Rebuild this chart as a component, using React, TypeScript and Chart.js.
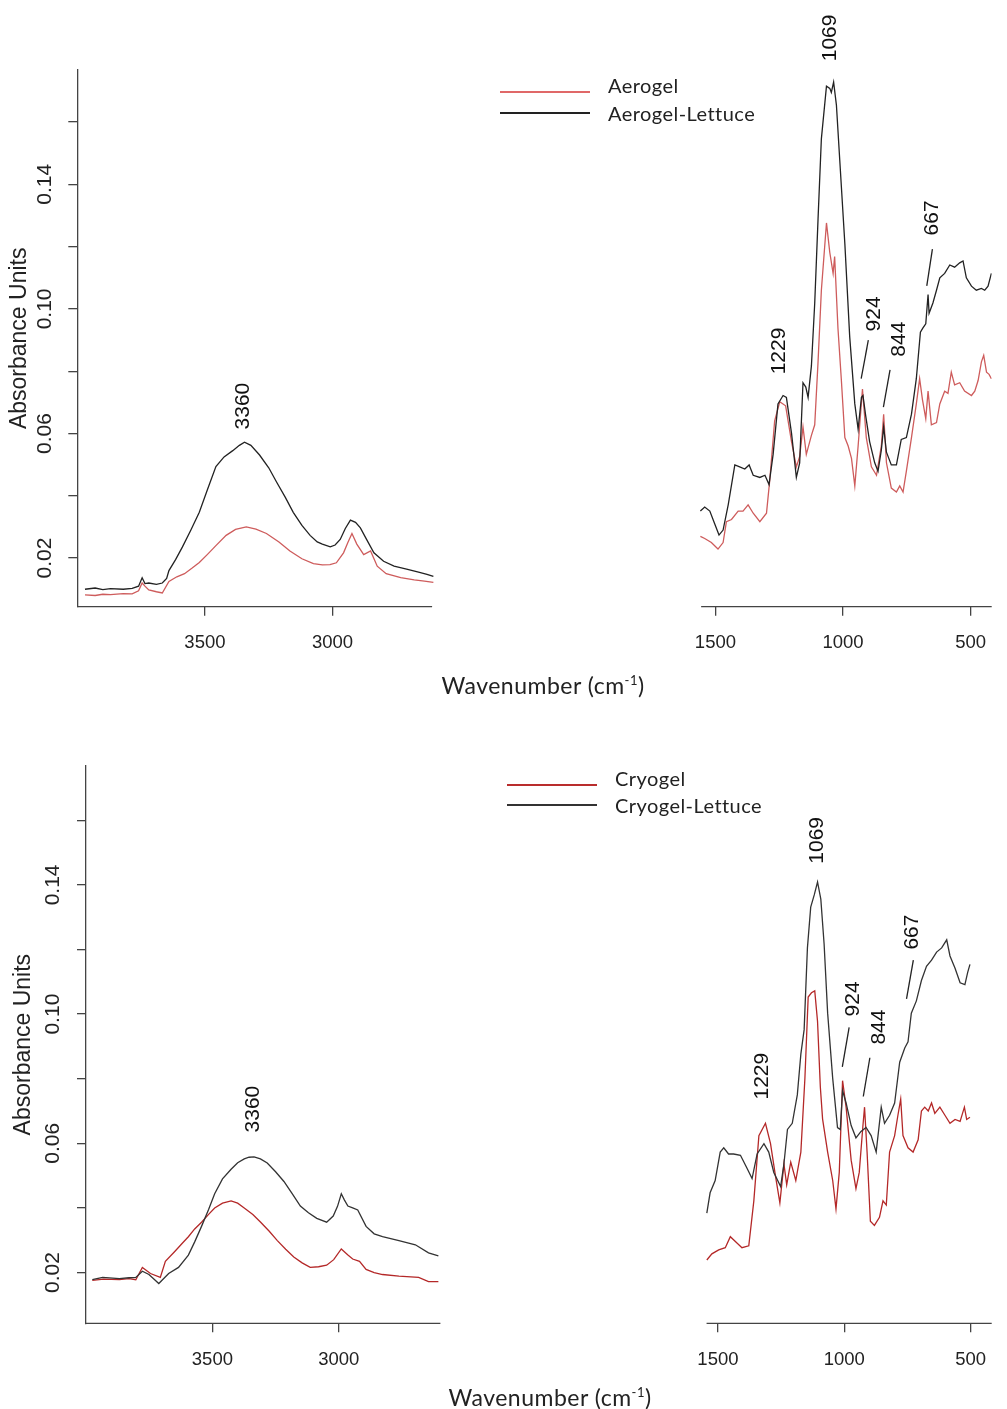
import React, { useEffect, useRef } from 'react';
import { Chart, registerables } from 'chart.js';

Chart.register(...registerables);

// ---------------- Top panel: Aerogel ----------------
const aeroLeftWn = [3970, 3930, 3900, 3870, 3820, 3785, 3760, 3746, 3735, 3720, 3690, 3667, 3641, 3610, 3580, 3550, 3522, 3490, 3457, 3417, 3380, 3338, 3300, 3259, 3210, 3167, 3120, 3075, 3040, 3010, 2985, 2957, 2940, 2924, 2905, 2878, 2851, 2825, 2790, 2733, 2680, 2640, 2605];
const aeroLeft = [0.0082, 0.0080, 0.0084, 0.0083, 0.0086, 0.0085, 0.0095, 0.0120, 0.0110, 0.0098, 0.0092, 0.0088, 0.0125, 0.0140, 0.0150, 0.0168, 0.0186, 0.0212, 0.0240, 0.0273, 0.0292, 0.0300, 0.0293, 0.0279, 0.0252, 0.0223, 0.0198, 0.0182, 0.0178, 0.0179, 0.0185, 0.0217, 0.0250, 0.0279, 0.0245, 0.0211, 0.0223, 0.0174, 0.0150, 0.0137, 0.0130, 0.0126, 0.0122];
const aeroLetLeftWn = [3970, 3930, 3900, 3870, 3820, 3785, 3760, 3746, 3735, 3720, 3690, 3667, 3650, 3641, 3615, 3588, 3555, 3522, 3490, 3457, 3425, 3391, 3365, 3345, 3320, 3286, 3250, 3220, 3185, 3154, 3120, 3088, 3060, 3040, 3009, 2990, 2970, 2950, 2930, 2910, 2891, 2870, 2838, 2800, 2759, 2710, 2667, 2630, 2605];
const aeroLetLeft = [0.0100, 0.0104, 0.0099, 0.0102, 0.0100, 0.0103, 0.0110, 0.0137, 0.0118, 0.0120, 0.0116, 0.0120, 0.0135, 0.0160, 0.0195, 0.0236, 0.0290, 0.0347, 0.0420, 0.0494, 0.0525, 0.0545, 0.0562, 0.0572, 0.0562, 0.0531, 0.0490, 0.0445, 0.0395, 0.0347, 0.0305, 0.0273, 0.0252, 0.0245, 0.0236, 0.0242, 0.0260, 0.0295, 0.0322, 0.0315, 0.0297, 0.0265, 0.0217, 0.0190, 0.0174, 0.0165, 0.0156, 0.0148, 0.0141];

const aeroRightWn = [1559, 1542, 1516, 1490, 1470, 1457, 1437, 1411, 1392, 1372, 1352, 1326, 1300, 1287, 1268, 1248, 1225, 1202, 1183, 1170, 1157, 1144, 1124, 1111, 1098, 1085, 1065, 1052, 1039, 1033, 1020, 1007, 993, 980, 967, 954, 941, 924, 909, 889, 869, 850, 841, 830, 811, 791, 778, 765, 752, 732, 713, 700, 689, 676, 667, 654, 634, 621, 602, 589, 576, 563, 543, 524, 497, 484, 471, 458, 449, 438, 428, 419];
const aeroRight = [0.0270, 0.0263, 0.0250, 0.0229, 0.0250, 0.0317, 0.0324, 0.0351, 0.0351, 0.0371, 0.0344, 0.0317, 0.0344, 0.0452, 0.0641, 0.0702, 0.0689, 0.0574, 0.0493, 0.0526, 0.0621, 0.0533, 0.0594, 0.0628, 0.0830, 0.1060, 0.1276, 0.1181, 0.1114, 0.1168, 0.0938, 0.0776, 0.0587, 0.0560, 0.0520, 0.0432, 0.0560, 0.0743, 0.0587, 0.0493, 0.0466, 0.0560, 0.0662, 0.0506, 0.0425, 0.0412, 0.0432, 0.0412, 0.0479, 0.0587, 0.0695, 0.0776, 0.0709, 0.0648, 0.0736, 0.0628, 0.0635, 0.0695, 0.0736, 0.0729, 0.0797, 0.0756, 0.0763, 0.0736, 0.0722, 0.0736, 0.0770, 0.0830, 0.0851, 0.0797, 0.0790, 0.0776];
const aeroLetRightWn = [1559, 1542, 1522, 1503, 1486, 1470, 1450, 1424, 1405, 1385, 1368, 1352, 1326, 1306, 1290, 1274, 1255, 1235, 1222, 1202, 1183, 1170, 1157, 1146, 1137, 1124, 1111, 1098, 1085, 1065, 1052, 1046, 1037, 1026, 1013, 993, 974, 954, 941, 928, 922, 911, 896, 876, 863, 850, 841, 830, 811, 791, 772, 752, 732, 713, 697, 687, 676, 667, 663, 648, 634, 621, 602, 582, 563, 543, 530, 517, 497, 478, 458, 445, 432, 419];
const aeroLetRight = [0.0351, 0.0364, 0.0351, 0.0310, 0.0274, 0.0290, 0.0371, 0.0499, 0.0493, 0.0486, 0.0499, 0.0466, 0.0459, 0.0466, 0.0436, 0.0533, 0.0695, 0.0722, 0.0716, 0.0601, 0.0459, 0.0506, 0.0763, 0.0749, 0.0716, 0.0817, 0.1019, 0.1289, 0.1546, 0.1715, 0.1708, 0.1695, 0.1728, 0.1654, 0.1478, 0.1209, 0.0911, 0.0695, 0.0614, 0.0716, 0.0722, 0.0655, 0.0574, 0.0506, 0.0479, 0.0547, 0.0621, 0.0540, 0.0499, 0.0499, 0.0581, 0.0587, 0.0662, 0.0776, 0.0925, 0.0939, 0.0952, 0.1046, 0.0986, 0.1019, 0.1060, 0.1100, 0.1114, 0.1141, 0.1134, 0.1148, 0.1154, 0.1100, 0.1073, 0.1060, 0.1066, 0.1060, 0.1073, 0.1114];

// ---------------- Bottom panel: Cryogel ----------------
const cryoLeftWn = [3975, 3930, 3868, 3830, 3803, 3777, 3745, 3706, 3686, 3647, 3620, 3595, 3570, 3543, 3515, 3491, 3460, 3426, 3400, 3374, 3340, 3309, 3275, 3243, 3210, 3178, 3145, 3113, 3080, 3048, 3020, 2990, 2965, 2945, 2918, 2892, 2860, 2827, 2762, 2684, 2645, 2606];
const cryoLeft = [0.0176, 0.0180, 0.0178, 0.0181, 0.0178, 0.0216, 0.0197, 0.0185, 0.0235, 0.0267, 0.0290, 0.0311, 0.0335, 0.0356, 0.0380, 0.0400, 0.0415, 0.0422, 0.0415, 0.0400, 0.0380, 0.0356, 0.0328, 0.0299, 0.0272, 0.0248, 0.0230, 0.0216, 0.0218, 0.0223, 0.0240, 0.0273, 0.0255, 0.0242, 0.0235, 0.0210, 0.0200, 0.0194, 0.0189, 0.0185, 0.0172, 0.0172];
const cryoLetLeftWn = [3975, 3934, 3868, 3830, 3803, 3777, 3751, 3712, 3673, 3634, 3595, 3570, 3543, 3515, 3491, 3460, 3426, 3400, 3374, 3355, 3335, 3310, 3283, 3250, 3217, 3185, 3152, 3120, 3087, 3048, 3022, 3005, 2990, 2978, 2964, 2945, 2925, 2892, 2860, 2827, 2762, 2697, 2645, 2606];
const cryoLetLeft = [0.0178, 0.0185, 0.0181, 0.0184, 0.0185, 0.0204, 0.0194, 0.0166, 0.0197, 0.0216, 0.0254, 0.0295, 0.0343, 0.0395, 0.0444, 0.0490, 0.0520, 0.0540, 0.0552, 0.0557, 0.0558, 0.0552, 0.0539, 0.0512, 0.0482, 0.0445, 0.0406, 0.0385, 0.0368, 0.0356, 0.0375, 0.0405, 0.0444, 0.0425, 0.0406, 0.0400, 0.0394, 0.0343, 0.0320, 0.0311, 0.0299, 0.0286, 0.0261, 0.0252];

const cryoRightWn = [1544, 1524, 1497, 1471, 1451, 1431, 1405, 1378, 1358, 1338, 1312, 1292, 1272, 1255, 1239, 1228, 1212, 1192, 1172, 1156, 1143, 1130, 1117, 1106, 1095, 1086, 1066, 1046, 1033, 1020, 1007, 993, 973, 954, 941, 927, 920, 910, 897, 881, 861, 847, 834, 821, 801, 788, 777, 768, 748, 728, 708, 695, 682, 668, 655, 642, 622, 602, 582, 562, 542, 525, 516, 503];
const cryoRight = [0.0239, 0.0258, 0.0270, 0.0277, 0.0311, 0.0296, 0.0277, 0.0283, 0.0422, 0.0624, 0.0662, 0.0599, 0.0497, 0.0416, 0.0536, 0.0472, 0.0542, 0.0485, 0.0573, 0.0801, 0.1053, 0.1066, 0.1072, 0.0977, 0.0775, 0.0675, 0.0573, 0.0485, 0.0397, 0.0510, 0.0794, 0.0712, 0.0548, 0.0460, 0.0510, 0.0649, 0.0712, 0.0573, 0.0359, 0.0346, 0.0371, 0.0422, 0.0409, 0.0573, 0.0624, 0.0687, 0.0737, 0.0624, 0.0586, 0.0573, 0.0611, 0.0700, 0.0712, 0.0700, 0.0725, 0.0693, 0.0712, 0.0687, 0.0662, 0.0674, 0.0668, 0.0712, 0.0674, 0.0681];
const cryoLetRightWn = [1544, 1531, 1511, 1491, 1477, 1458, 1438, 1411, 1385, 1365, 1345, 1318, 1299, 1279, 1252, 1239, 1225, 1206, 1186, 1172, 1159, 1146, 1133, 1119, 1106, 1093, 1080, 1066, 1046, 1027, 1016, 1007, 993, 973, 954, 934, 914, 894, 874, 854, 841, 821, 801, 781, 761, 748, 735, 715, 695, 675, 655, 635, 615, 595, 582, 562, 542, 523, 512, 503];
const cryoLetRight = [0.0384, 0.0447, 0.0485, 0.0573, 0.0586, 0.0567, 0.0567, 0.0563, 0.0523, 0.0491, 0.0567, 0.0599, 0.0573, 0.0510, 0.0466, 0.0536, 0.0643, 0.0662, 0.0750, 0.0876, 0.0952, 0.1205, 0.1331, 0.1369, 0.1409, 0.1356, 0.1217, 0.1003, 0.0801, 0.0649, 0.0643, 0.0763, 0.0725, 0.0655, 0.0617, 0.0637, 0.0649, 0.0624, 0.0573, 0.0712, 0.0662, 0.0687, 0.0725, 0.0851, 0.0895, 0.0914, 0.1003, 0.1041, 0.1104, 0.1148, 0.1167, 0.1192, 0.1205, 0.1230, 0.1180, 0.1142, 0.1097, 0.1091, 0.1129, 0.1154];

// ---------------- Axes ----------------
const xTickValues = [3500, 3000, 1500, 1000, 500];
const yTickValues = [0.02, 0.04, 0.06, 0.08, 0.1, 0.12, 0.14, 0.16];
const yLabeledTicks = [0.02, 0.06, 0.1, 0.14];

// Peak annotations (anchored in data units)
const topAnnotations = [
  { label: '3360', x: 3351, y: 0.0688 },
  { label: '1069', x: 1051, y: 0.187 },
  { label: '1229', x: 1251, y: 0.0865 },
  { label: '924', x: 878, y: 0.0984, line: [901, 0.09, 929, 0.0776] },
  { label: '844', x: 780, y: 0.0903, line: [816, 0.0804, 842, 0.0685] },
  { label: '667', x: 651, y: 0.1292, line: [650, 0.1192, 672, 0.1074] },
];
const bottomAnnotations = [
  { label: '3360', x: 3339, y: 0.0706 },
  { label: '1069', x: 1108, y: 0.1538 },
  { label: '1229', x: 1326, y: 0.0808 },
  { label: '924', x: 966, y: 0.1047, line: [981, 0.0959, 1008, 0.0837] },
  { label: '844', x: 863, y: 0.096, line: [899, 0.0865, 925, 0.0745] },
  { label: '667', x: 733, y: 0.1254, line: [727, 0.1167, 754, 0.1047] },
];

const FONT = "'Liberation Sans', Arial, sans-serif";
const AXIS = '#444';

type SeriesDef = { label: string; color: string; leftWn: number[]; left: number[]; rightWn: number[]; right: number[] };

type PanelDef = {
  top: number; height: number;
  chartLeft: number; chartRight: number; chartTop: number; chartBottom: number;
  xMin: number; xMax: number; yMin: number; yMax: number;
  breakFrom: number; breakTo: number;
  yTickPad: number; yTitlePad: number; xTickPad: number;
  series: SeriesDef[];
  annotations: any[];
};

const topPanel: PanelDef = {
  top: 0, height: 700,
  chartLeft: 77.3, chartRight: 991.7, chartTop: 70, chartBottom: 606.7,
  xMin: 417.7, xMax: 4000, yMin: 0.0044, yMax: 0.1767,
  breakFrom: 2610, breakTo: 1556,
  yTickPad: 2.4, yTitlePad: 6.2, xTickPad: 16.5,
  series: [
    { label: 'Aerogel-Lettuce', color: '#222222', leftWn: aeroLetLeftWn, left: aeroLetLeft, rightWn: aeroLetRightWn, right: aeroLetRight },
    { label: 'Aerogel', color: 'rgb(206,92,92)', leftWn: aeroLeftWn, left: aeroLeft, rightWn: aeroRightWn, right: aeroRight },
  ],
  annotations: topAnnotations,
};

const bottomPanel: PanelDef = {
  top: 700, height: 709,
  chartLeft: 86, chartRight: 991.7, chartTop: 66, chartBottom: 623.3,
  xMin: 417, xMax: 4000, yMin: 0.0043, yMax: 0.1768,
  breakFrom: 2598, breakTo: 1545,
  yTickPad: 3.6, yTitlePad: 10.2, xTickPad: 17,
  series: [
    { label: 'Cryogel-Lettuce', color: '#333333', leftWn: cryoLetLeftWn, left: cryoLetLeft, rightWn: cryoLetRightWn, right: cryoLetRight },
    { label: 'Cryogel', color: 'rgb(180,40,40)', leftWn: cryoLeftWn, left: cryoLeft, rightWn: cryoRightWn, right: cryoRight },
  ],
  annotations: bottomAnnotations,
};

function buildData(s: SeriesDef, def: PanelDef) {
  const pts: any[] = s.left.map((y, i) => ({ x: s.leftWn[i], y }));
  pts.push({ x: (def.breakFrom + def.breakTo) / 2, y: null });
  s.right.forEach((y, i) => pts.push({ x: s.rightWn[i], y }));
  return pts;
}

function Panel({ def }: { def: PanelDef }) {
  const ref = useRef<HTMLCanvasElement | null>(null);
  useEffect(() => {
    if (!ref.current) return;
    const overlay = {
      id: 'overlay',
      afterDraw(chart: any) {
        const { ctx, chartArea } = chart;
        const xs = chart.scales.x;
        const ys = chart.scales.y;
        ctx.save();
        // broken x axis line
        ctx.strokeStyle = AXIS;
        ctx.lineWidth = 1.3;
        ctx.beginPath();
        ctx.moveTo(xs.getPixelForValue(def.xMax), chartArea.bottom);
        ctx.lineTo(xs.getPixelForValue(def.breakFrom), chartArea.bottom);
        ctx.moveTo(xs.getPixelForValue(def.breakTo), chartArea.bottom);
        ctx.lineTo(xs.getPixelForValue(def.xMin), chartArea.bottom);
        ctx.stroke();
        // annotations
        ctx.fillStyle = '#111';
        ctx.font = `21px ${FONT}`;
        ctx.textAlign = 'center';
        ctx.textBaseline = 'middle';
        def.annotations.forEach((a: any) => {
          const px = xs.getPixelForValue(a.x);
          const py = ys.getPixelForValue(a.y);
          ctx.save();
          ctx.translate(px, py);
          ctx.rotate(-Math.PI / 2);
          ctx.fillText(a.label, 0, 0);
          ctx.restore();
          if (a.line) {
            ctx.strokeStyle = '#222';
            ctx.lineWidth = 1.3;
            ctx.beginPath();
            ctx.moveTo(xs.getPixelForValue(a.line[0]), ys.getPixelForValue(a.line[1]));
            ctx.lineTo(xs.getPixelForValue(a.line[2]), ys.getPixelForValue(a.line[3]));
            ctx.stroke();
          }
        });
        ctx.restore();
      },
    };
    const chart = new Chart(ref.current, {
      type: 'line',
      data: {
        datasets: def.series.map((s) => ({
          label: s.label,
          data: buildData(s, def),
          borderColor: s.color,
          backgroundColor: s.color,
          borderWidth: 1.3,
          pointRadius: 0,
          tension: 0,
          spanGaps: false,
          fill: false,
        })),
      },
      options: {
        responsive: false,
        maintainAspectRatio: false,
        animation: false,
        layout: { padding: { left: 0, top: def.chartTop, right: 1007 - def.chartRight, bottom: 0 } },
        plugins: { legend: { display: false }, tooltip: { enabled: false } },
        scales: {
          x: {
            type: 'linear',
            reverse: true,
            min: def.xMin,
            max: def.xMax,
            afterFit: (s: any) => { s.height = def.height - def.chartBottom; },
            afterBuildTicks: (s: any) => { s.ticks = xTickValues.map((v) => ({ value: v })); },
            grid: { display: true, drawOnChartArea: false, drawTicks: true, tickLength: 9, color: AXIS, lineWidth: 1.3 },
            border: { display: false },
            ticks: {
              autoSkip: false, maxRotation: 0, minRotation: 0, padding: def.xTickPad,
              color: '#222', font: { family: FONT, size: 18.5 },
              callback: (v: any) => String(v),
            },
          },
          y: {
            type: 'linear',
            min: def.yMin,
            max: def.yMax,
            afterFit: (s: any) => { s.width = def.chartLeft; },
            afterBuildTicks: (s: any) => { s.ticks = yTickValues.map((v) => ({ value: v })); },
            grid: { display: true, drawOnChartArea: false, drawTicks: true, tickLength: 9, color: AXIS, lineWidth: 1.3 },
            border: { display: true, color: AXIS, width: 1.3 },
            title: {
              display: true, text: 'Absorbance Units', color: '#222',
              font: { family: FONT, size: 23 }, padding: { top: def.yTitlePad, bottom: 0 },
            },
            ticks: {
              autoSkip: false, minRotation: 90, maxRotation: 90, crossAlign: 'center', padding: def.yTickPad,
              color: '#222', font: { family: FONT, size: 21 },
              callback: (v: any) => (yLabeledTicks.some((t) => Math.abs(t - v) < 1e-9) ? Number(v).toFixed(2) : ''),
            },
          },
        },
      } as any,
      plugins: [overlay],
    });
    return () => chart.destroy();
  }, [def]);
  return (
    <canvas
      ref={ref}
      width={1007}
      height={def.height}
      style={{ position: 'absolute', left: 0, top: def.top, width: 1007, height: def.height }}
    />
  );
}

const legendFont = "Lato, 'Open Sans', sans-serif";

function LegendItem({ x, lineY, textY, color, label, thick }: any) {
  return (
    <>
      <div style={{ position: 'absolute', left: x, top: lineY - thick / 2, width: 90, height: thick, background: color }} />
      <div style={{ position: 'absolute', left: x + 108, top: textY - 13, height: 26, lineHeight: '26px', fontFamily: legendFont, fontSize: 20, letterSpacing: '0.45px', color: '#222', whiteSpace: 'nowrap' }}>{label}</div>
    </>
  );
}

function AxisTitle({ cx, cy }: { cx: number; cy: number }) {
  return (
    <div style={{ position: 'absolute', left: cx - 160, top: cy - 15, width: 320, height: 30, lineHeight: '30px', textAlign: 'center', fontFamily: legendFont, fontSize: 23, letterSpacing: '0.5px', color: '#222', whiteSpace: 'nowrap' }}>
      Wavenumber (cm<sup style={{ fontSize: 13, verticalAlign: 'top', lineHeight: '20px' }}>-1</sup>)
    </div>
  );
}

export default function App() {
  return (
    <div style={{ position: 'absolute', left: 0, top: 0, width: 1007, height: 1409, background: '#fff', overflow: 'hidden' }}>
      <Panel def={topPanel} />
      <Panel def={bottomPanel} />
      <LegendItem x={500} lineY={92} textY={85} color="rgb(224,104,104)" label="Aerogel" thick={2} />
      <LegendItem x={500} lineY={113} textY={113} color="#222" label="Aerogel-Lettuce" thick={1.6} />
      <LegendItem x={507} lineY={785} textY={778} color="rgb(185,45,45)" label="Cryogel" thick={2} />
      <LegendItem x={507} lineY={805} textY={805} color="#333" label="Cryogel-Lettuce" thick={1.6} />
      <AxisTitle cx={543} cy={685} />
      <AxisTitle cx={550} cy={1397} />
    </div>
  );
}
